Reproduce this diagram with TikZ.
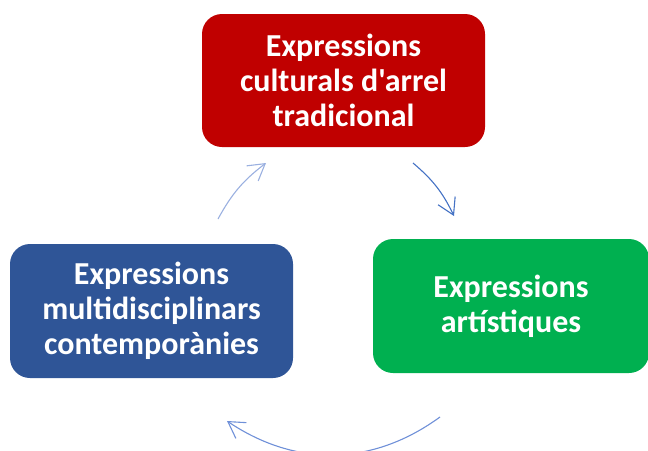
\documentclass[tikz,border=0pt]{standalone}
\usepackage{fontspec}
\setmainfont{Carlito}[Ligatures=TeXOff]
\usetikzlibrary{arrows.meta}
\definecolor{tradred}{HTML}{C00000}
\definecolor{artgreen}{HTML}{00B050}
\definecolor{contblue}{HTML}{2F5597}
\definecolor{arrowdark}{HTML}{4472C4}
\definecolor{arrowmid}{HTML}{6F90D8}
\definecolor{arrowpale}{HTML}{9AB0E0}
\tikzset{
  stage/.style={rounded corners=20pt, text=white, align=center, inner sep=0pt,
    font=\bfseries\fontsize{32}{35}\selectfont},
  turn/.style={-{Straight Barb[length=16pt,width=19pt]}, line width=1.1pt}
}
\begin{document}
\begin{tikzpicture}[x=1pt,y=-1pt]
  \useasboundingbox (0,0) rectangle (648,450);
  % the three boxes
  \node[stage, fill=tradred, minimum width=283pt, minimum height=133pt] (trad) at (343.5,80.5)
    {Expressions\\culturals d'arrel\\tradicional};
  \node[stage, fill=artgreen, minimum width=276pt, minimum height=134pt] (art) at (511,306)
    {Expressions\\artístiques};
  \node[stage, fill=contblue, minimum width=283pt, minimum height=134pt] (cont) at (151.5,311)
    {Expressions\\multidisciplinars\\contemporànies};
  % end points of the arrows round the cycle
  \coordinate (t1) at (413,163);
  \coordinate (t2) at (454,216);
  \coordinate (b1) at (440,417);
  \coordinate (b2) at (227,421);
  \coordinate (l1) at (218,219);
  \coordinate (l2) at (266,163);
  \draw[turn, arrowdark] (t1) to[bend left=12] (t2);
  \draw[turn, arrowmid] (b1) to[bend left=35] (b2);
  \draw[turn, arrowpale] (l1) to[bend left=12] (l2);
\end{tikzpicture}
\end{document}
